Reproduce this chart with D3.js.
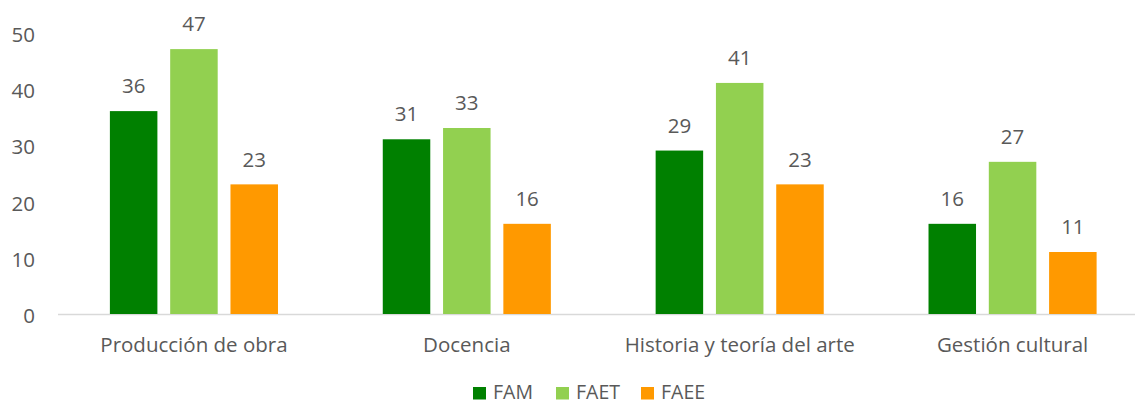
<!DOCTYPE html>
<html><head><meta charset="utf-8">
<script src="https://cdn.jsdelivr.net/npm/d3@7"></script>
<style>body{margin:0;background:#fff}svg{display:block}text{font-family:"Open Sans",sans-serif;fill:#595959}</style>
</head><body>
<svg id="c" width="1135" height="405"></svg>
<script>
const categories = ["Producción de obra","Docencia","Historia y teoría del arte","Gestión cultural"];
const seriesNames = ["FAM","FAET","FAEE"];
const FAM = [36,31,29,16];
const FAET = [47,33,41,27];
const FAEE = [23,16,23,11];
const yTicks = [0,10,20,30,40,50];
const colors = ["#008000","#92D050","#FF9900"];
const seriesValues = [FAM, FAET, FAEE];

const FS = 20.5;
const svg = d3.select("#c");
const x0 = d3.scaleBand().domain(categories).range([57.5,1149]).paddingInner(0.384).paddingOuter(0.192);
const x1 = d3.scaleBand().domain(seriesNames).range([0,x0.bandwidth()]).paddingInner(0.212);
const y = d3.scaleLinear().domain([0,50]).range([314,32.2]);
const color = d3.scaleOrdinal().domain(seriesNames).range(colors);

// y tick labels
const yAxis = d3.axisLeft(y).tickValues(yTicks).tickSize(0).tickPadding(0);
const ga = svg.append("g").attr("transform","translate(35,0)").call(yAxis);
ga.select(".domain").remove();
ga.selectAll("text").attr("font-size",FS).attr("font-family","Open Sans").attr("fill","#595959").attr("dy","0.43em");

// baseline
svg.append("line").attr("x1",58).attr("x2",1135).attr("y1",y(0)+0.5).attr("y2",y(0)+0.5)
  .attr("stroke","#d9d9d9").attr("stroke-width",1.5);

const groups = svg.append("g").selectAll("g").data(categories).join("g")
  .attr("transform",c=>`translate(${x0(c)},0)`);
groups.selectAll("rect").data((c,i)=>seriesNames.map((s,j)=>({s,v:seriesValues[j][i]}))).join("rect")
  .attr("x",d=>x1(d.s)).attr("width",x1.bandwidth())
  .attr("y",d=>y(d.v)).attr("height",d=>y(0)-y(d.v)).attr("fill",d=>color(d.s));
groups.selectAll("text.v").data((c,i)=>seriesNames.map((s,j)=>({s,v:seriesValues[j][i]}))).join("text")
  .attr("class","v").attr("x",d=>x1(d.s)+x1.bandwidth()/2).attr("y",d=>y(d.v)-17.8)
  .attr("text-anchor","middle").attr("font-size",FS).text(d=>d.v);

// category labels
const xAxis = d3.axisBottom(x0).tickSize(0).tickPadding(0);
const gx = svg.append("g").attr("transform","translate(0,351.5)").call(xAxis);
gx.select(".domain").remove();
gx.selectAll("text").attr("font-size",FS).attr("font-family","Open Sans").attr("fill","#595959").attr("y",0).attr("dy",0);

// legend
const legX = [473,556,641];
const lg = svg.append("g").selectAll("g").data(seriesNames).join("g")
  .attr("transform",(d,i)=>`translate(${legX[i]},387)`);
lg.append("rect").attr("width",13).attr("height",12.5).attr("fill",d=>color(d));
lg.append("text").attr("x",20).attr("y",12.3).attr("font-size",19.5).text(d=>d);
</script>
</body></html>
